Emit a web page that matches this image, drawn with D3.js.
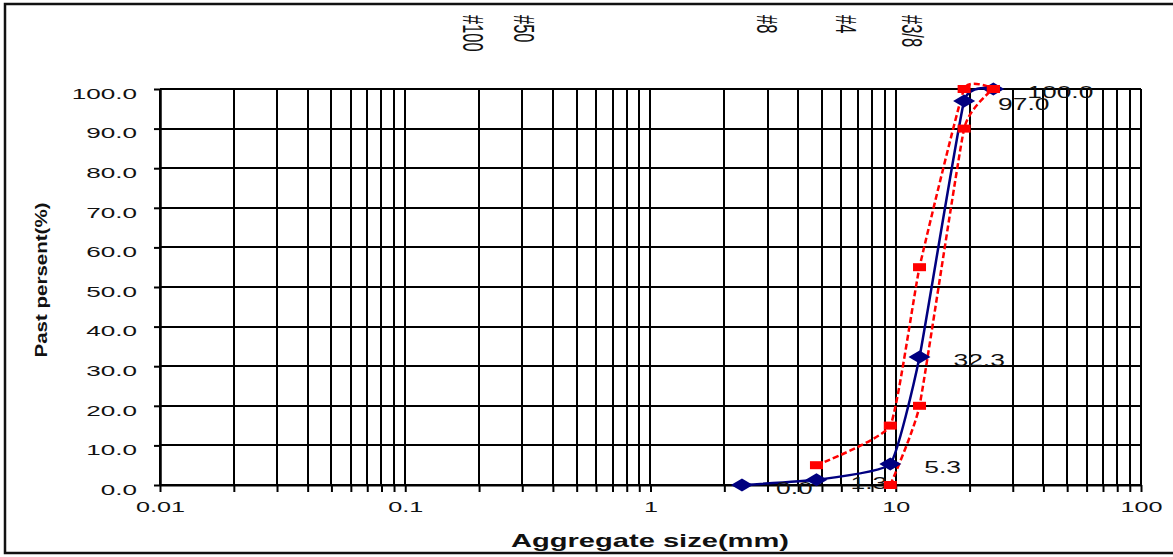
<!DOCTYPE html>
<html>
<head>
<meta charset="utf-8">
<script src="https://cdn.jsdelivr.net/npm/d3@7"></script>
<style>
  body { margin: 0; background: #fff; }
  text { font-family: "Liberation Sans", Arial, sans-serif; }
</style>
</head>
<body>
<div id="chart"></div>
<script>
// sieve sizes (mm) and passing percentages
var sizes = [2.36, 4.75, 9.5, 12.5, 19, 25];
var passing = [0.0, 1.3, 5.3, 32.3, 97.0, 100.0];
var upperSizes = [4.75, 9.5, 12.5, 19, 25];
var upperLimit = [5, 15, 55, 100, 100];
var lowerSizes = [9.5, 12.5, 19, 25];
var lowerLimit = [0, 20, 90, 100];
// sieve names on top, placed at the sizes where they appear
var sieveNames = ["#100", "#50", "#8", "#4", "#3/8"];
var sieveAt = [0.19, 0.305, 3.0, 6.3, 11.7];
var yTicks = [0, 10, 20, 30, 40, 50, 60, 70, 80, 90, 100];
var xLabels = [0.01, 0.1, 1, 10, 100];

var W = 1173, H = 557;
var SX = 1.8; // horizontal stretch of the original picture

var svg = d3.select("#chart").append("svg")
  .attr("width", W)
  .attr("height", H);

// outer frame
svg.append("rect")
  .attr("x", 5).attr("y", 4)
  .attr("width", 1172).attr("height", 549)
  .attr("fill", "#fff")
  .attr("stroke", "#111")
  .attr("stroke-width", 2.5);

var x = d3.scaleLog().domain([0.01, 100]).range([160, 1141]);
var y = d3.scaleLinear().domain([0, 100]).range([485, 89]);

// every log tick 1..9 per decade
var logTicks = [];
[0.01, 0.1, 1, 10].forEach(function (d) {
  for (var i = 1; i < 10; i++) logTicks.push(+(d * i).toPrecision(3));
});
logTicks.push(100);

var grid = svg.append("g")
  .attr("stroke", "#000")
  .attr("stroke-width", 2)
  .attr("shape-rendering", "crispEdges");
grid.selectAll("line.v").data(logTicks).enter().append("line")
  .attr("x1", function (d) { return Math.round(x(d)); })
  .attr("x2", function (d) { return Math.round(x(d)); })
  .attr("y1", y(100)).attr("y2", y(0));
grid.selectAll("line.h").data(yTicks).enter().append("line")
  .attr("x1", x(0.01)).attr("x2", x(100))
  .attr("y1", function (d) { return Math.round(y(d)); })
  .attr("y2", function (d) { return Math.round(y(d)); });

// x axis
var xAxis = svg.append("g")
  .attr("transform", "translate(0," + y(0) + ")")
  .call(d3.axisBottom(x).tickValues(logTicks).tickSize(7).tickSizeOuter(0)
    .tickFormat(function (d) { return xLabels.indexOf(d) >= 0 ? String(d) : ""; }));
xAxis.select(".domain").attr("stroke", "#000").attr("stroke-width", 2);
xAxis.selectAll(".tick line").attr("stroke", "#000").attr("stroke-width", 2);
xAxis.selectAll(".tick text")
  .attr("y", 27).attr("dy", null)
  .attr("fill", "#111")
  .style("font-size", "14px")
  .attr("transform", "scale(" + SX + ",1)");

// y axis
var yAxis = svg.append("g")
  .attr("transform", "translate(" + x(0.01) + ",0)")
  .call(d3.axisLeft(y).tickValues(yTicks).tickSize(6).tickSizeOuter(0)
    .tickFormat(d3.format(".1f")));
yAxis.select(".domain").attr("stroke", "#000").attr("stroke-width", 2.5);
yAxis.selectAll(".tick line").attr("stroke", "#000").attr("stroke-width", 2);
yAxis.selectAll(".tick text")
  .attr("x", -23 / SX).attr("dy", "0.36em")
  .attr("y", 4)
  .attr("fill", "#111")
  .style("font-size", "14.5px")
  .attr("transform", "scale(" + SX + ",1)");

// sieve names, vertical
sieveNames.forEach(function (name, i) {
  svg.append("g")
    .attr("transform", "translate(" + (x(sieveAt[i]) - 10.5) + ",15) scale(" + SX + ",1) rotate(90)")
    .append("text")
    .attr("fill", "#111")
    .style("font-size", "16.5px")
    .text(name);
});

// axis titles
svg.append("text")
  .attr("x", 650).attr("y", 547)
  .attr("text-anchor", "middle")
  .attr("textLength", 278)
  .attr("lengthAdjust", "spacingAndGlyphs")
  .style("font-size", "19px")
  .style("font-weight", "bold")
  .attr("fill", "#111")
  .text("Aggregate size(mm)");

svg.append("g")
  .attr("transform", "translate(47,280) scale(1.4,1) rotate(-90)")
  .append("text")
  .attr("text-anchor", "middle")
  .attr("textLength", 155)
  .attr("lengthAdjust", "spacingAndGlyphs")
  .style("font-size", "12px")
  .style("font-weight", "bold")
  .attr("fill", "#111")
  .text("Past persent(%)");

// lines, lightly smoothed
var line = d3.line()
  .x(function (d) { return x(d[0]); })
  .y(function (d) { return y(d[1]); })
  .curve(d3.curveCardinal.tension(0.6));

var upper = d3.zip(upperSizes, upperLimit);
var lower = d3.zip(lowerSizes, lowerLimit);
var blue = d3.zip(sizes, passing);

[upper, lower].forEach(function (s) {
  svg.append("path")
    .datum(s)
    .attr("d", line)
    .attr("fill", "none")
    .attr("stroke", "#ff0000")
    .attr("stroke-width", 2.5)
    .attr("stroke-dasharray", "6,3");
});

svg.append("path")
  .datum(blue)
  .attr("d", line)
  .attr("fill", "none")
  .attr("stroke", "#000080")
  .attr("stroke-width", 2.5);

// data labels
blue.forEach(function (d) {
  svg.append("g")
    .attr("transform", "translate(" + (x(d[0]) + 34) + "," + (y(d[1]) + 9) + ") scale(1.65,1)")
    .append("text")
    .attr("fill", "#111")
    .style("font-size", "16px")
    .text(d3.format(".1f")(d[1]));
});

// markers
svg.selectAll("path.diamond").data(blue).enter().append("path")
  .attr("class", "diamond")
  .attr("d", function (d) {
    var cx = x(d[0]), cy = y(d[1]);
    return "M" + (cx - 11) + "," + cy + "L" + cx + "," + (cy - 6.5) +
      "L" + (cx + 11) + "," + cy + "L" + cx + "," + (cy + 6.5) + "Z";
  })
  .attr("fill", "#000080");

svg.selectAll("rect.sq").data(upper.concat(lower)).enter().append("rect")
  .attr("class", "sq")
  .attr("x", function (d) { return x(d[0]) - 6.5; })
  .attr("y", function (d) { return y(d[1]) - 4; })
  .attr("width", 13).attr("height", 8)
  .attr("fill", "#ff0000");
</script>
</body>
</html>
